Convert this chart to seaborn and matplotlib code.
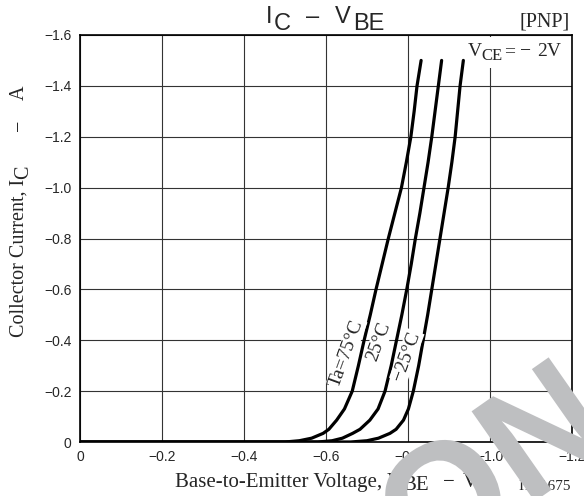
import numpy as np
import pandas as pd
import matplotlib
matplotlib.use("Agg")
import matplotlib.pyplot as plt
import seaborn as sns
from matplotlib.transforms import IdentityTransform, Affine2D
from matplotlib.patches import Rectangle, PathPatch
from matplotlib.textpath import TextPath
from matplotlib.font_manager import FontProperties

# Ic - Vbe curves (PNP)
temps = ["Ta=75°C", "25°C", "−25°C"]
ic_a = [0, 0, -0.005, -0.015, -0.034, -0.05, -0.086, -0.13, -0.2, -0.3, -0.4, -0.5,
        -0.6, -0.7, -0.8, -0.9, -1.0, -1.1, -1.2, -1.3, -1.4, -1.5]
vbe_75 = [0, -0.50, -0.535, -0.565, -0.593, -0.607, -0.626, -0.645, -0.664, -0.679, -0.693, -0.708,
          -0.722, -0.737, -0.752, -0.768, -0.784, -0.796, -0.807, -0.815, -0.822, -0.832]
vbe_25 = [0, -0.58, -0.615, -0.64, -0.665, -0.683, -0.707, -0.727, -0.744, -0.759, -0.772, -0.785,
          -0.797, -0.808, -0.818, -0.829, -0.839, -0.849, -0.858, -0.866, -0.874, -0.882]
vbe_m25 = [0, -0.66, -0.70, -0.728, -0.756, -0.771, -0.789, -0.801, -0.813, -0.826, -0.837, -0.848,
           -0.858, -0.868, -0.878, -0.888, -0.898, -0.907, -0.915, -0.921, -0.927, -0.935]

x_ticks = [0, -0.2, -0.4, -0.6, -0.8, -1.0, -1.2]
x_tick_labels = ["0", "−0.2", "−0.4", "−0.6", "−0.8", "−1.0", "−1.2"]
y_ticks = [0, -0.2, -0.4, -0.6, -0.8, -1.0, -1.2, -1.4, -1.6]
y_tick_labels = ["0", "−0.2", "−0.4", "−0.6", "−0.8", "−1.0", "−1.2", "−1.4", "−1.6"]

W, H = 584, 496
SANS = "Liberation Sans"
SERIF = "Liberation Serif"


def chain(fig, x, y, pieces, rot=0, **kw):
    # pieces: (text, shift down in px, gap before in px); x, y in image pixels
    r = fig.canvas.get_renderer()
    pos = 0.0
    for s, shift, gap in pieces:
        pos += gap
        if rot == 0:
            xd, yd = x + pos, (H - y) - shift
        else:
            xd, yd = x + shift, (H - y) + pos
        t = fig.text(xd, yd, s, transform=IdentityTransform(), rotation=rot,
                     rotation_mode="anchor", ha="left", va="baseline", **kw)
        bb = t.get_window_extent(r)
        pos += bb.width if rot == 0 else bb.height


sns.set_style("white")
plt.rcParams["font.family"] = [SANS, "DejaVu Sans"]

frames = []
for t, v in zip(temps, [vbe_75, vbe_25, vbe_m25]):
    frames.append(pd.DataFrame({"vbe": v, "ic": ic_a, "temp": t}))
df = pd.concat(frames, ignore_index=True)

fig = plt.figure(figsize=(W / 100, H / 100), dpi=100)
ax = fig.add_axes([80 / W, 1 - 442 / H, (572 - 80) / W, (442 - 35) / H])

sns.lineplot(data=df, x="vbe", y="ic", hue="temp", palette=["black"] * 3,
             sort=False, estimator=None, legend=False, lw=2.3, ax=ax, zorder=3,
             solid_joinstyle="round")

ax.set_xlim(0, -1.2)
ax.set_ylim(0, -1.6)
ax.set_xticks(x_ticks)
ax.set_xticklabels(x_tick_labels, fontsize=10, family=SANS)
ax.set_yticks(y_ticks)
ax.set_yticklabels(y_tick_labels, fontsize=10, family=SANS)
ax.tick_params(length=0, pad=6)
ax.grid(True, color="#333333", lw=0.8)
ax.set_axisbelow(True)
for sp in ax.spines.values():
    sp.set_color("black")
    sp.set_linewidth(1.2)
ax.set_xlabel("")
ax.set_ylabel("")

# curve labels
lab_kw = dict(family=SERIF, fontsize=14, rotation=70, ha="center", va="center",
              rotation_mode="anchor", zorder=4,
              bbox=dict(fc="white", ec="none", pad=0.6))
ax.text(-0.650, -0.350, temps[0], **lab_kw)
ax.text(-0.729, -0.394, temps[1], **lab_kw)
ax.text(-0.797, -0.338, temps[2], **lab_kw)

# title  I_C - V_BE
tk = dict(transform=IdentityTransform(), ha="left", va="baseline", fontsize=17, family=SANS)
fig.text(265.5, H - 23.3, "I", **tk)
fig.text(273.5, H - 30, "C", **tk)
fig.text(306, H - 23.3, "–", **tk)
fig.text(334.5, H - 23.3, "V", **tk)
fig.text(353, H - 30, "BE", **tk)

fig.text(570, H - 26, "[PNP]", transform=IdentityTransform(), ha="right",
         va="baseline", fontsize=14.5, family=SERIF)

# V_CE = -2V on a white patch that hides the grid
fig.patches.append(Rectangle((465, H - 68), 105, 31, transform=IdentityTransform(),
                             fc="white", ec="none", zorder=1))
vk = dict(transform=IdentityTransform(), ha="left", va="baseline", fontsize=14,
          family=SERIF)
fig.text(468, H - 56, "V", **vk)
fig.text(481.5, H - 60, "CE", **dict(vk, fontsize=12))
fig.text(504, H - 56, "=", **vk)
fig.text(520, H - 56, "−", **vk)
fig.text(537, H - 56, "2V", **vk)

# axis labels
chain(fig, 24, 337, [("Collector Current, I", 0, 0), ("C", 4, 0), ("−", 0, 34), ("A", 0, 20)],
      rot=90, family=SERIF, fontsize=14.5)
chain(fig, 175, 487, [("Base-to-Emitter Voltage, V", 0, 0), ("BE", 3, 0), ("−", 0, 14), ("V", 0, 8)],
      family=SERIF, fontsize=15)
fig.text(571, H - 490, "IT01675", transform=IdentityTransform(), ha="right",
         va="baseline", fontsize=11, family=SERIF)

# grey watermark over the lower right corner
wm = TextPath((0, 0), "ON", size=160, prop=FontProperties(family=SANS, weight="bold"))
fig.patches.append(PathPatch(wm, transform=Affine2D().rotate_deg(35).translate(424, H - 579),
                             fc="#bebfc1", ec="none", zorder=10))

fig.savefig("out.png", dpi=100)
